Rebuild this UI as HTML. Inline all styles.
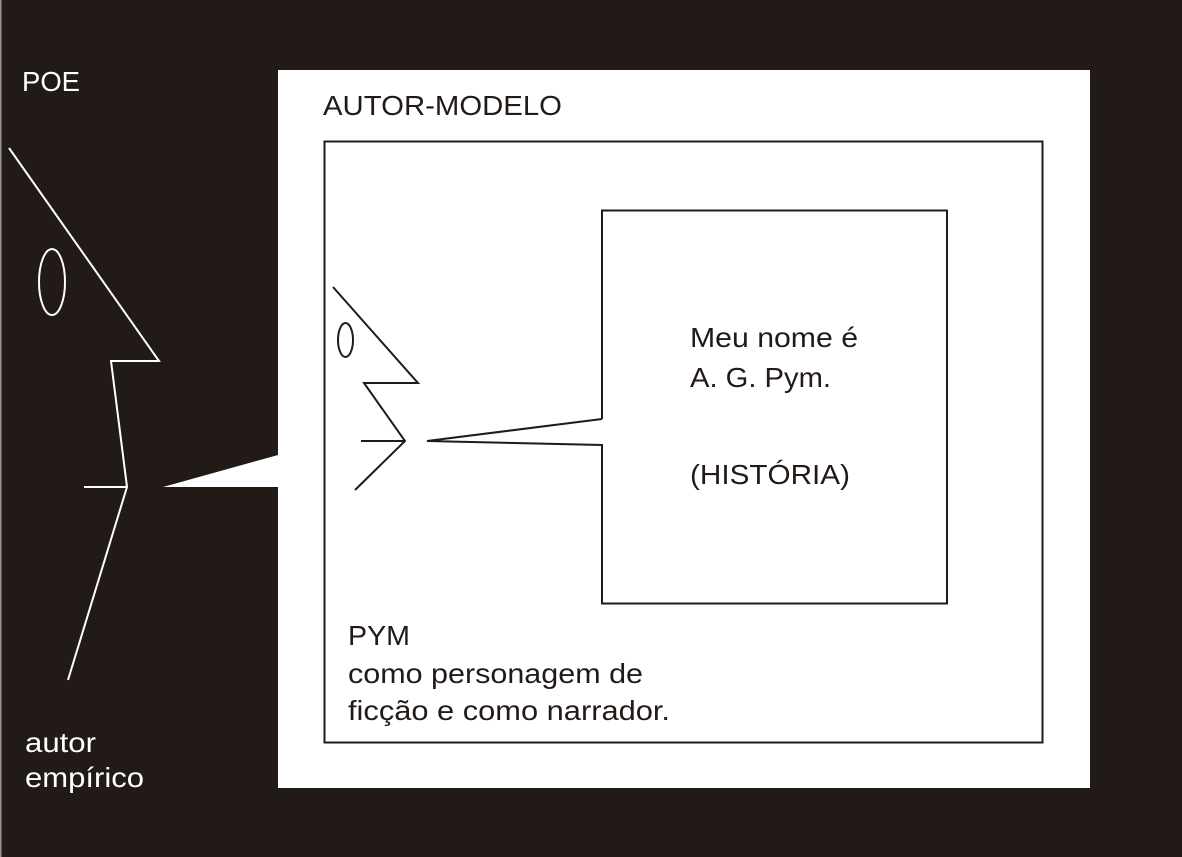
<!DOCTYPE html>
<html><head><meta charset="utf-8"><style>
html,body{margin:0;padding:0;background:#211a17;}
svg{display:block}
text{font-family:"Liberation Sans",sans-serif;font-size:28px;}
</style></head><body>
<svg width="1182" height="857" viewBox="0 0 1182 857">
<rect width="1182" height="857" fill="#211a17"/>
<rect x="0" y="0" width="1.5" height="857" fill="#9a9590"/>
<path d="M278 70 H1090 V788 H278 V487 H163 L278 455 Z" fill="#fff"/>
<rect x="324.5" y="141.5" width="718" height="601" fill="none" stroke="#211a17" stroke-width="2"/>
<path d="M602 419 V210.5 H947 V603.5 H602 V445 L427 441 L602 419" fill="none" stroke="#211a17" stroke-width="2"/>
<g fill="none" stroke="#fff" stroke-width="2">
<polyline points="9,148 159,361 111,361 127,487 68,680"/>
<line x1="84" y1="487" x2="127" y2="487"/>
<ellipse cx="52" cy="282" rx="13" ry="33"/>
</g>
<g fill="none" stroke="#211a17" stroke-width="2">
<polyline points="333,287 418,383 364,383 405,441 355,490"/>
<line x1="361" y1="441" x2="405" y2="441"/>
<ellipse cx="345.5" cy="340" rx="7.5" ry="17"/>
</g>
<text x="22" y="91" fill="#fff" textLength="58" lengthAdjust="spacingAndGlyphs">POE</text>
<text x="25" y="752" fill="#fff" textLength="71" lengthAdjust="spacingAndGlyphs">autor</text>
<text x="25" y="787" fill="#fff" textLength="119" lengthAdjust="spacingAndGlyphs">empírico</text>
<text x="323" y="115" fill="#211a17" textLength="239" lengthAdjust="spacingAndGlyphs">AUTOR-MODELO</text>
<text x="690" y="347" fill="#211a17" textLength="168" lengthAdjust="spacingAndGlyphs">Meu nome é</text>
<text x="690" y="387" fill="#211a17" textLength="141" lengthAdjust="spacingAndGlyphs">A. G. Pym.</text>
<text x="690" y="484" fill="#211a17" textLength="160" lengthAdjust="spacingAndGlyphs">(HISTÓRIA)</text>
<text x="348" y="645" fill="#211a17" textLength="62" lengthAdjust="spacingAndGlyphs">PYM</text>
<text x="348" y="683" fill="#211a17" textLength="295" lengthAdjust="spacingAndGlyphs">como personagem de</text>
<text x="348" y="720" fill="#211a17" textLength="322" lengthAdjust="spacingAndGlyphs">ficção e como narrador.</text>
</svg>
</body></html>
